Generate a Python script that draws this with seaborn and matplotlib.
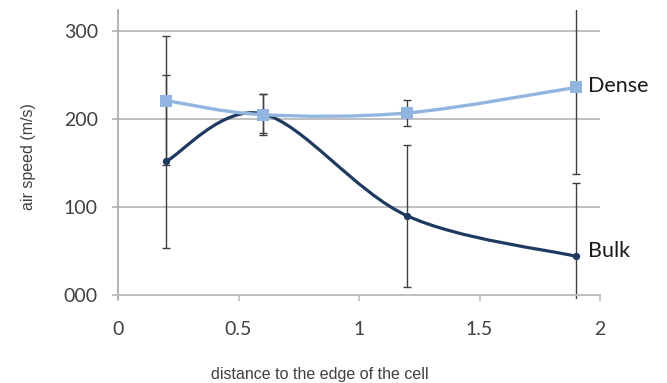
import numpy as np
import pandas as pd
import matplotlib
matplotlib.use("Agg")
import matplotlib.pyplot as plt
from matplotlib.path import Path
from matplotlib.patches import PathPatch
import seaborn as sns

# ---- data ----
distance = [0.2, 0.6, 1.2, 1.9]
dense = [221, 205, 207, 236]
dense_err = [73, 23, 15, 99]
bulk = [152, 206, 90, 44]
bulk_err = [98, 22, 81, 83]
series_names = ["Dense", "Bulk"]
x_ticks = [0, 0.5, 1, 1.5, 2]
x_ticklabels = ["0", "0.5", "1", "1.5", "2"]
y_ticks = [0, 100, 200, 300]
y_ticklabels = ["000", "100", "200", "300"]
x_label = "distance to the edge of the cell"
y_label = "air speed (m/s)"

DENSE_C = "#92B5E0"
BULK_C = "#1F3A60"
ERR_C = "#3F3F3F"
GRID_C = "#BFBFBF"

sns.set_style("white")

fig = plt.figure(figsize=(6.67, 3.83), dpi=100)
ax = fig.add_axes([118 / 667, (383 - 299.4) / 383, 482 / 667, (299.4 - 10) / 383])

df = pd.DataFrame({
    "distance": distance * 2,
    "speed": dense + bulk,
    "err": dense_err + bulk_err,
    "series": [series_names[0]] * 4 + [series_names[1]] * 4,
})


def smooth_path(xs, ys):
    pts = np.column_stack([xs, ys]).astype(float)
    n = len(pts)
    verts = [pts[0]]
    codes = [Path.MOVETO]
    for i in range(n - 1):
        p0 = pts[i - 1] if i > 0 else pts[i]
        p1 = pts[i]
        p2 = pts[i + 1]
        p3 = pts[i + 2] if i + 2 < n else pts[i + 1]
        c1 = p1 + (p2 - p0) / 6.0
        c2 = p2 - (p3 - p1) / 6.0
        verts += [c1, c2, p2]
        codes += [Path.CURVE4] * 3
    return Path(verts, codes)


# error bars (drawn first, below lines)
for name in series_names:
    sub = df[df["series"] == name]
    ax.errorbar(sub["distance"], sub["speed"], yerr=sub["err"], fmt="none",
                ecolor=ERR_C, elinewidth=1.0, capsize=3, capthick=1.0, zorder=2)

# smoothed lines
ax.add_patch(PathPatch(smooth_path(distance, bulk), facecolor="none",
                       edgecolor=BULK_C, lw=2.3, zorder=3))
ax.add_patch(PathPatch(smooth_path(distance, dense), facecolor="none",
                       edgecolor=DENSE_C, lw=2.4, zorder=5))

# markers
sns.scatterplot(data=df[df["series"] == "Bulk"], x="distance", y="speed",
                marker="o", s=28, color=BULK_C, edgecolor=BULK_C,
                linewidth=0, ax=ax, zorder=4, legend=False)
sns.scatterplot(data=df[df["series"] == "Dense"], x="distance", y="speed",
                marker="s", s=70, color=DENSE_C, edgecolor=DENSE_C,
                linewidth=0, ax=ax, zorder=6, legend=False)

# series labels
ax.text(distance[-1] + 0.05, dense[-1] + 2, series_names[0], fontsize=15.5,
        family="Lato", color="#1a1a1a", va="center", ha="left", clip_on=False)
ax.text(distance[-1] + 0.05, bulk[-1] + 6, series_names[1], fontsize=15.5,
        family="Lato", color="#1a1a1a", va="center", ha="left", clip_on=False)

ax.set_xlim(0, 2)
ax.set_ylim(-5, 324)
ax.set_xticks(x_ticks)
ax.set_xticklabels(x_ticklabels)
ax.set_yticks(y_ticks)
ax.set_yticklabels(y_ticklabels)

ax.yaxis.grid(True, color=GRID_C, lw=1.4)
ax.xaxis.grid(False)
ax.set_axisbelow(True)

for s in ["top", "right"]:
    ax.spines[s].set_visible(False)
ax.spines["bottom"].set_position(("data", 0))
ax.spines["bottom"].set_color(GRID_C)
ax.spines["bottom"].set_linewidth(1.4)
ax.spines["left"].set_color("#A6A6A6")
ax.spines["left"].set_linewidth(1.2)

ax.tick_params(axis="y", length=4.5, width=1.4, color=GRID_C, pad=10,
               labelsize=14, labelcolor="#404040", left=True)
ax.tick_params(axis="x", length=4, width=1.2, color=GRID_C, pad=15,
               labelsize=14, labelcolor="#404040", bottom=True, direction="out")
for lab in ax.get_xticklabels() + ax.get_yticklabels():
    lab.set_family("Lato")

ax.set_xlabel("")
ax.set_ylabel("")
fig.text(320 / 667, 1 - 374 / 383, x_label, ha="center", va="center",
         fontsize=11.5, family="Liberation Sans", color="#404040")
fig.text(28 / 667, 1 - 157 / 383, y_label, ha="center", va="center",
         rotation=90, fontsize=11.5, family="Liberation Sans", color="#404040")

fig.savefig("out.png", dpi=100)
